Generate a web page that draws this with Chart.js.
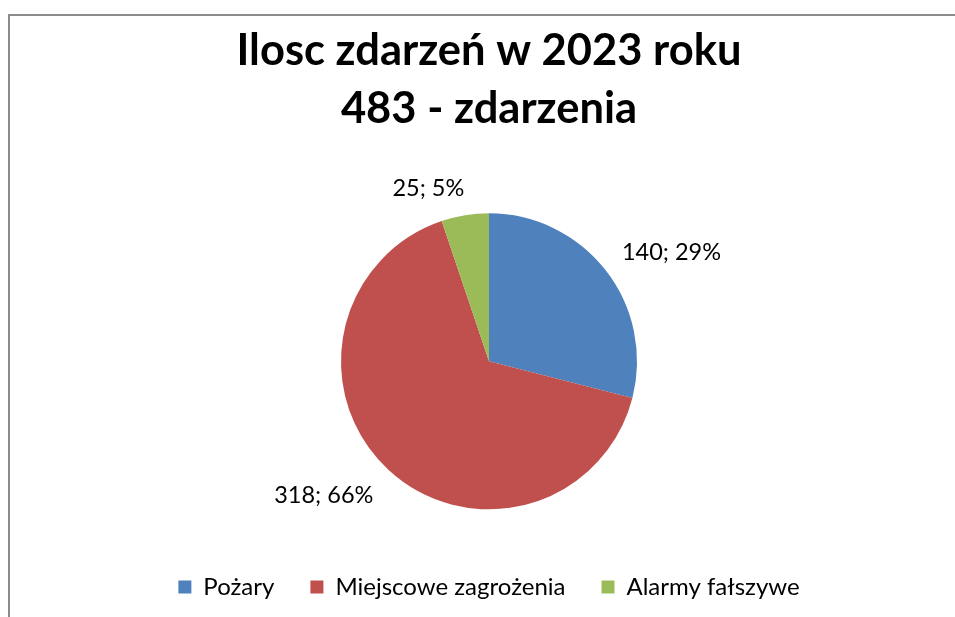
<!DOCTYPE html>
<html>
<head>
<meta charset="utf-8">
<script src="https://cdn.jsdelivr.net/npm/chart.js@4.4.0/dist/chart.umd.min.js"></script>
<style>
html,body{margin:0;padding:0;background:#fff;}
#wrap{position:relative;width:955px;height:617px;}
</style>
</head>
<body>
<div id="wrap"><canvas id="c" width="955" height="617"></canvas></div>
<script>
const categories = ['Pożary', 'Miejscowe zagrożenia', 'Alarmy fałszywe'];
const values = [140, 318, 25];
const percents = [29, 66, 5];
const titleLines = ['Ilosc zdarzeń w 2023 roku', '483 - zdarzenia'];
const colors = ['#4f81bd', '#c0504d', '#9bbb59'];
const labelOffsets = [[15, 21], [-21, -21], [-31, 8]];
const labelDist = [212, 212, 183];

const FONT = 'Lato, "Open Sans", sans-serif';

const framePlugin = {
  id: 'frame',
  beforeDraw(chart) {
    const ctx = chart.ctx;
    ctx.save();
    ctx.fillStyle = '#fff';
    ctx.fillRect(0, 0, chart.width, chart.height);
    ctx.strokeStyle = '#8c8c8c';
    ctx.lineWidth = 2;
    ctx.beginPath();
    ctx.moveTo(9, chart.height + 2);
    ctx.lineTo(9, 15);
    ctx.lineTo(chart.width + 2, 15);
    ctx.stroke();
    ctx.restore();
  }
};

const labelPlugin = {
  id: 'sliceLabels',
  afterDatasetsDraw(chart) {
    const ctx = chart.ctx;
    const meta = chart.getDatasetMeta(0);
    ctx.save();
    ctx.font = '23.5px ' + FONT;
    ctx.fillStyle = '#000';
    ctx.textAlign = 'center';
    ctx.textBaseline = 'middle';
    meta.data.forEach((arc, i) => {
      const p = arc.getProps(['x', 'y', 'startAngle', 'endAngle'], true);
      const mid = (p.startAngle + p.endAngle) / 2;
      const d = labelDist[i];
      const x = p.x + Math.cos(mid) * d + labelOffsets[i][0];
      const y = p.y + Math.sin(mid) * d + labelOffsets[i][1];
      ctx.fillText(values[i] + '; ' + percents[i] + '%', x, y);
    });
    ctx.restore();
  }
};

new Chart(document.getElementById('c'), {
  type: 'pie',
  data: {
    labels: categories,
    datasets: [{
      data: values,
      backgroundColor: colors,
      borderWidth: 0,
      radius: 148
    }]
  },
  options: {
    responsive: false,
    animation: false,
    layout: { padding: { left: 23, right: 0, top: 22, bottom: 8 } },
    plugins: {
      tooltip: { enabled: false },
      title: {
        display: true,
        text: titleLines,
        color: '#000',
        font: { family: FONT, size: 43.5, weight: 'bold', lineHeight: 1.33 },
        padding: { top: 0, bottom: 46 }
      },
      legend: {
        position: 'bottom',
        labels: {
          color: '#000',
          font: { family: FONT, size: 24 },
          boxWidth: 13,
          boxHeight: 13,
          padding: 36
        }
      }
    }
  },
  plugins: [framePlugin, labelPlugin]
});
</script>
</body>
</html>
